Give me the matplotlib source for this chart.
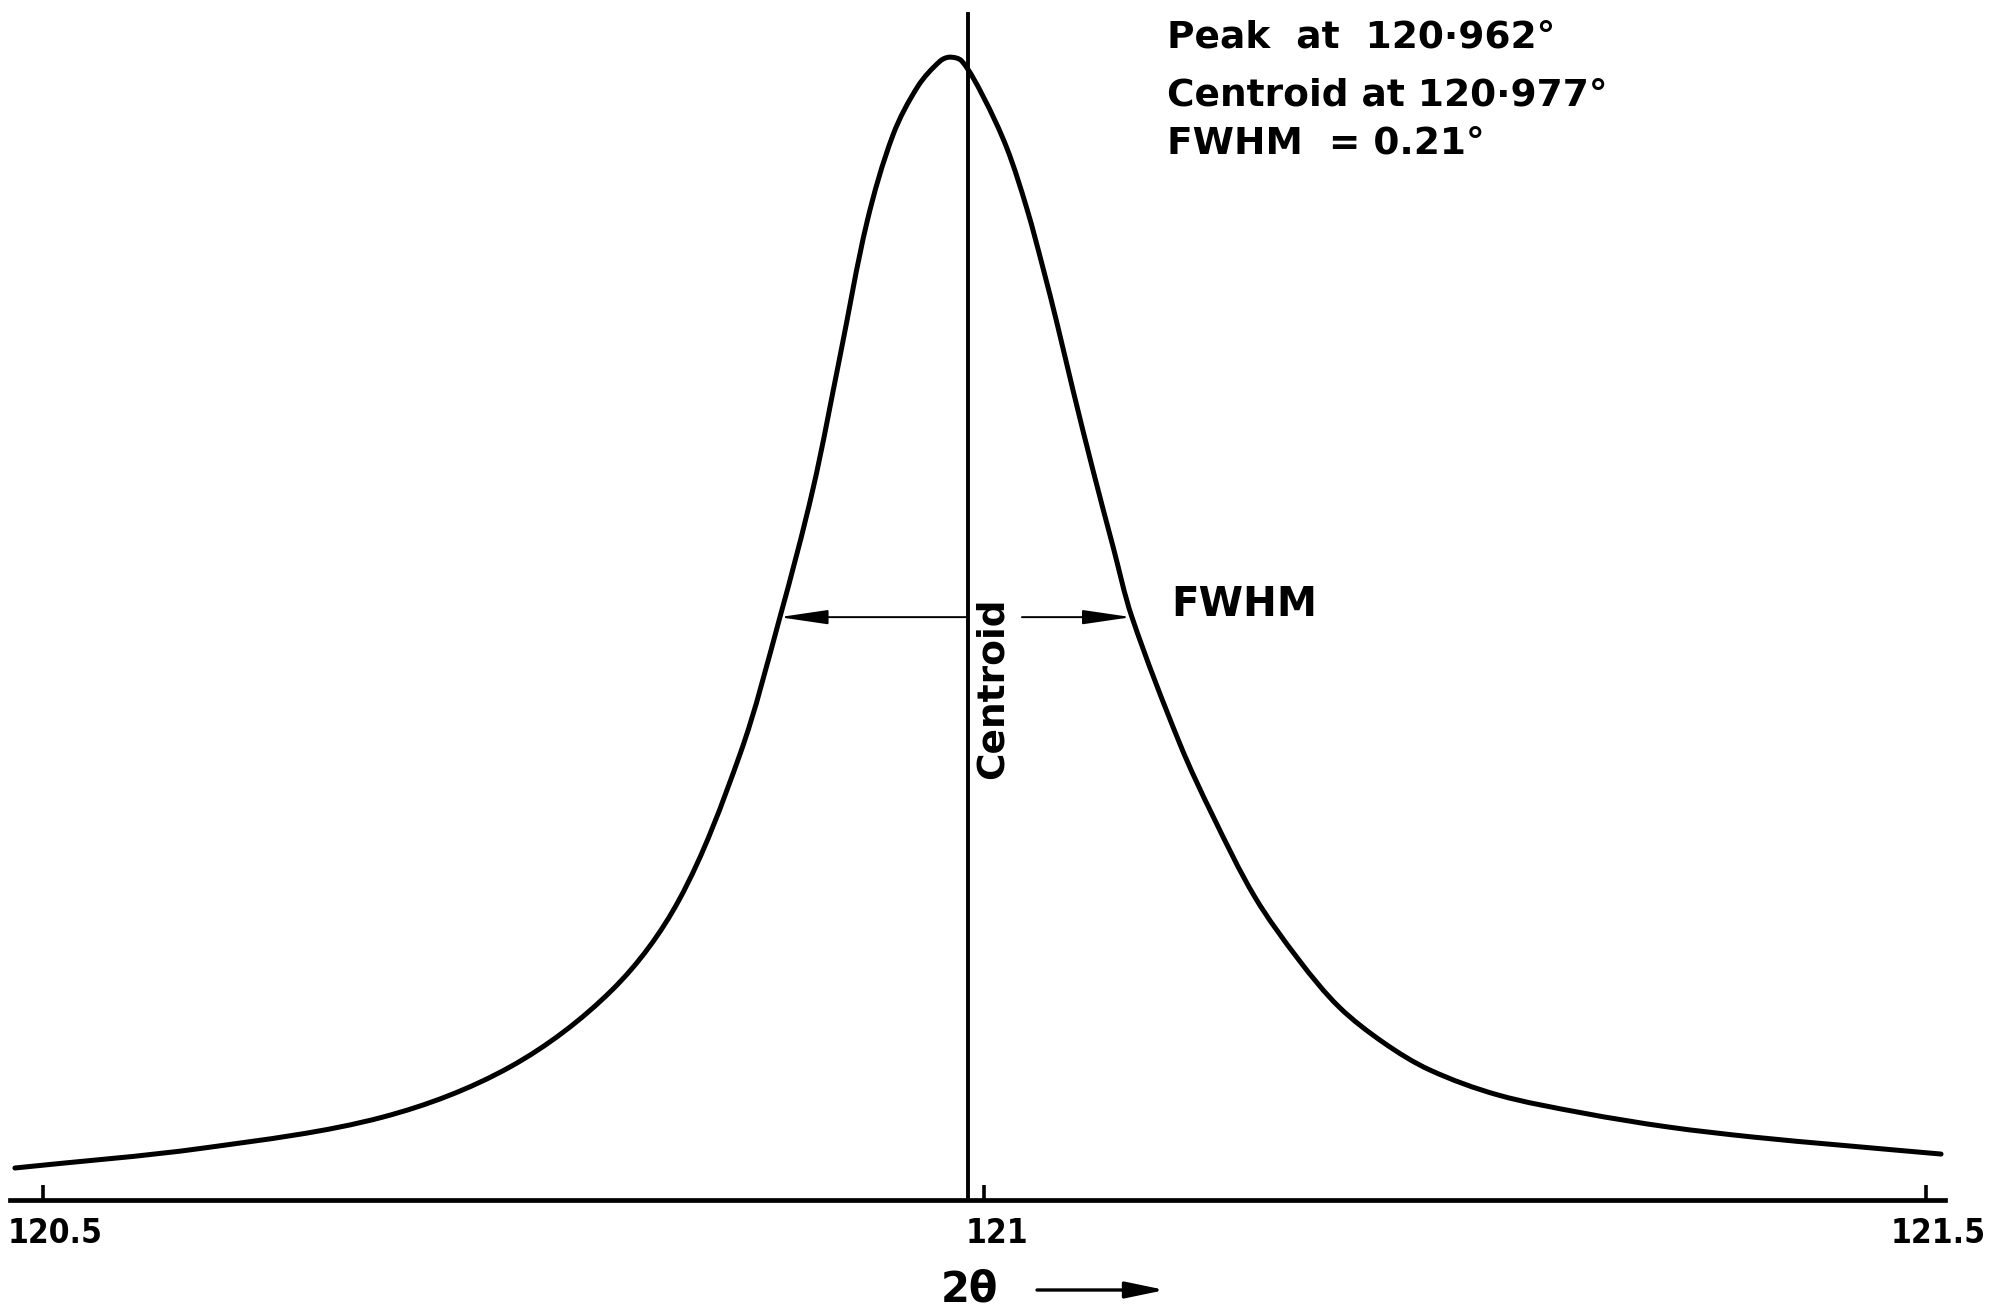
import numpy as np
import matplotlib
matplotlib.use("Agg")
from matplotlib import pyplot as plt
from matplotlib.path import Path
from matplotlib.patches import PathPatch
from matplotlib.transforms import ScaledTranslation

# profile (2theta in degrees, intensity in % of peak)
two_theta = [120.4851, 120.5855, 120.6806, 120.7480, 120.8022, 120.8378,
             120.8702, 120.8914, 120.9089, 120.9233, 120.9376, 120.9514,
             120.9647, 120.9764, 120.9817,
             120.9880, 120.9992, 121.0119, 121.0226, 121.0311, 121.0385,
             121.0470, 121.0576, 121.0682, 121.0783, 121.1038, 121.1213,
             121.1436, 121.1670, 121.1883, 121.2122, 121.2366, 121.2727,
             121.3178, 121.3630, 121.4081, 121.4538, 121.5080]
intensity = [2.80, 4.55, 7.26, 11.64, 18.37, 26.25,
             39.02, 51.01, 62.20, 73.84, 85.56, 93.18,
             97.46, 99.65, 100.0,
             99.65, 96.59, 92.04, 86.70, 81.54, 76.73,
             70.87, 63.87, 57.22, 51.01, 39.90, 33.60,
             26.51, 21.00, 16.89, 13.74, 11.37, 9.19,
             7.61, 6.39, 5.51, 4.81, 4.02]

tick_pos = [120.5, 121.0, 121.5]
tick_labels = ["120.5", "121", "121.5"]

centroid_pos = 120.991
half_level = 51.0
fwhm_left = 120.891
fwhm_right = 121.078

notes = ["Peak  at  120\u00b7962\u00b0",
         "Centroid at 120\u00b7977\u00b0",
         "FWHM  = 0.21\u00b0"]


def smooth_path(xs, ys, sx, sy):
    # chord-length catmull-rom drawn as cubic beziers through the read points
    p = np.column_stack([xs, ys]).astype(float)
    q = p * [sx, sy]
    t = np.concatenate([[0], np.cumsum(np.hypot(*np.diff(q, axis=0).T))])
    n = len(p)
    tang = np.zeros_like(p)
    for i in range(n):
        a, b = max(i - 1, 0), min(i + 1, n - 1)
        tang[i] = (p[b] - p[a]) / (t[b] - t[a])
    verts = [p[0]]
    codes = [Path.MOVETO]
    for i in range(n - 1):
        h = (t[i + 1] - t[i]) / 3
        verts += [p[i] + tang[i] * h, p[i + 1] - tang[i + 1] * h, p[i + 1]]
        codes += [Path.CURVE4] * 3
    return Path(verts, codes)


W, H = 1990, 1314
fig = plt.figure(figsize=(W / 100, H / 100), dpi=100)
ax = fig.add_axes([10 / W, 114 / H, 1935 / W, 1200 / H])

ax.add_patch(PathPatch(smooth_path(two_theta, intensity, 1883, 11.43),
                       fill=False, color="k", lw=3.6, capstyle="round",
                       joinstyle="round"))
ax.set_xlim(120.4825, 121.5101)
ax.set_ylim(0, 105)

for s in ["top", "left", "right"]:
    ax.spines[s].set_visible(False)
ax.spines["bottom"].set_linewidth(3.4)
ax.set_yticks([])
ax.set_xticks(tick_pos)
ax.set_xticklabels(tick_labels, family="DejaVu Sans", fontstretch="condensed",
                   fontweight="bold", fontsize=24)
ax.tick_params(axis="x", direction="in", length=11, width=2.6, pad=12)
for lab in ax.get_xticklabels():
    lab.set_transform(lab.get_transform() + ScaledTranslation(0.12, 0, fig.dpi_scale_trans))

# centroid line
ax.plot([centroid_pos, centroid_pos], [0, 103.8], color="k", lw=2.8)
ax.text(121.0045, 44.8, "Centroid", rotation=90, ha="center", va="center",
        fontsize=27, fontweight="bold")

# FWHM arrows
arrow = dict(arrowstyle="-|>,head_length=1.5,head_width=0.22", color="k",
             lw=1.4, shrinkA=0, shrinkB=0, mutation_scale=20)
ax.annotate("", xy=(fwhm_left, half_level), xytext=(centroid_pos, half_level),
            arrowprops=arrow)
ax.annotate("", xy=(fwhm_right, half_level), xytext=(121.0199, half_level),
            arrowprops=arrow)
ax.text(121.1378, 52.1, "FWHM", ha="center", va="center", fontsize=29,
        fontweight="bold")

# notes top right
for txt, yb in zip(notes, [47, 105, 153]):
    fig.text(1167 / W, 1 - yb / H, txt, ha="left", va="baseline", fontsize=27,
             fontweight="bold")

# x label with arrow
fig.text(969 / W, 1 - 1289 / H, "2\u03b8", ha="center", va="center", fontsize=30,
         fontweight="bold")
ax.annotate("", xy=(1165, H - 1290), xytext=(1037, H - 1290),
            xycoords="figure pixels", textcoords="figure pixels",
            arrowprops=dict(arrowstyle="-|>,head_length=1.2,head_width=0.25",
                            color="k", lw=2.4, shrinkA=0, shrinkB=0,
                            mutation_scale=20))

fig.savefig("out.png", dpi=100)
